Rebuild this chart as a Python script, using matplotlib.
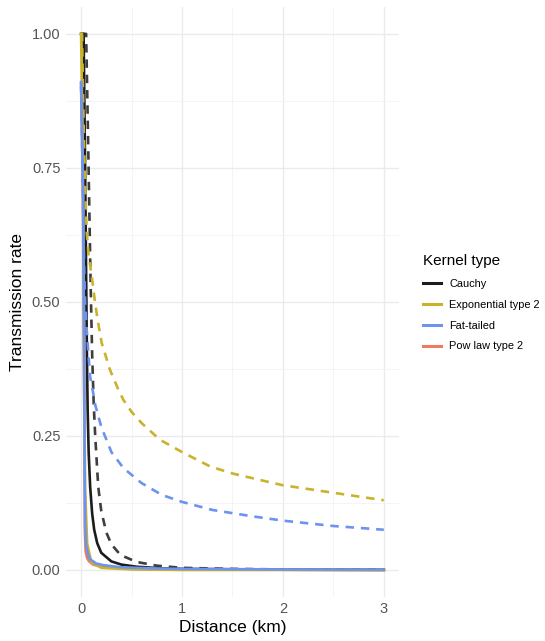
import numpy as np
import matplotlib.pyplot as plt
from matplotlib.lines import Line2D

# values (distance in km, transmission rate)
cauchy_x = [0, 0.025, 0.04, 0.05, 0.058, 0.065, 0.075, 0.09, 0.11, 0.13, 0.16, 0.2, 0.3, 0.4, 0.55, 0.8, 1.0, 2.0, 3.0]
cauchy_y = [1.0, 1.0, 0.75, 0.55, 0.4, 0.3, 0.22, 0.155, 0.105, 0.075, 0.05, 0.032, 0.016, 0.01, 0.006, 0.003, 0.002, 0.0005, 0.0002]
cauchy2_x = [0, 0.05, 0.065, 0.08, 0.096, 0.11, 0.125, 0.14, 0.17, 0.2, 0.25, 0.3, 0.39, 0.55, 0.75, 1.0, 1.5, 2.0, 3.0]
cauchy2_y = [1.0, 1.0, 0.85, 0.69, 0.52, 0.4, 0.31, 0.25, 0.155, 0.11, 0.07, 0.048, 0.028, 0.015, 0.008, 0.004, 0.002, 0.001, 0.0005]

exp_x = [0, 0.015, 0.022, 0.03, 0.04, 0.06, 0.1, 0.2, 0.5, 1.0, 3.0]
exp_y = [1.0, 0.8, 0.6, 0.35, 0.15, 0.05, 0.015, 0.004, 0.001, 0.0, 0.0]
exp2_x = [0, 0.01, 0.02, 0.035, 0.056, 0.073, 0.106, 0.139, 0.17, 0.205, 0.287, 0.37, 0.42, 0.5, 0.6, 0.78, 1.0, 1.28, 1.5, 1.77, 2.0, 2.5, 3.0]
exp2_y = [1.0, 1.0, 0.88, 0.75, 0.63, 0.59, 0.547, 0.498, 0.46, 0.423, 0.373, 0.336, 0.317, 0.295, 0.274, 0.243, 0.22, 0.193, 0.18, 0.168, 0.158, 0.144, 0.13]

fat_x = [0, 0.02, 0.03, 0.035, 0.04, 0.05, 0.07, 0.09, 0.15, 0.22, 0.4, 0.7, 1.0, 2.0, 3.0]
fat_y = [0.91, 0.7, 0.4, 0.2, 0.08, 0.045, 0.028, 0.02, 0.012, 0.009, 0.005, 0.003, 0.002, 0.001, 0.0006]
fat2_x = [0, 0.01, 0.02, 0.03, 0.04, 0.055, 0.07, 0.09, 0.12, 0.14, 0.2, 0.3, 0.42, 0.6, 0.8, 1.0, 1.3, 1.7, 2.0, 2.5, 3.0]
fat2_y = [0.91, 0.8, 0.68, 0.57, 0.5, 0.45, 0.41, 0.36, 0.33, 0.308, 0.267, 0.22, 0.19, 0.162, 0.14, 0.127, 0.112, 0.1, 0.092, 0.082, 0.075]

pow_x = [0, 0.02, 0.03, 0.034, 0.038, 0.045, 0.06, 0.08, 0.12, 0.2, 0.5, 1.0, 3.0]
pow_y = [0.9, 0.7, 0.4, 0.2, 0.07, 0.035, 0.022, 0.016, 0.01, 0.006, 0.002, 0.001, 0.0]

kernels = ["Cauchy", "Exponential type 2", "Fat-tailed", "Pow law type 2"]
colours = ["#1c1c1c", "#C9B32B", "#6D93EE", "#EF7A5E"]

plt.rcParams['font.family'] = ['Liberation Sans', 'DejaVu Sans']

fig = plt.figure(figsize=(5.45, 6.41), dpi=100)
ax = fig.add_axes([0.121, 0.069, 0.611, 0.92])

lw = 1.9
dash = (0, (3.2, 2.6))
ax.plot(pow_x, pow_y, color=colours[3], lw=lw)
ax.plot(cauchy_x, cauchy_y, color=colours[0], lw=lw)
ax.plot(cauchy2_x, cauchy2_y, color=colours[0], lw=lw, ls=dash, alpha=0.85)
ax.plot(exp_x, exp_y, color=colours[1], lw=lw)
ax.plot(exp2_x, exp2_y, color=colours[1], lw=lw, ls=dash)
ax.plot(fat_x, fat_y, color=colours[2], lw=lw)
ax.plot(fat2_x, fat2_y, color=colours[2], lw=lw, ls=dash)

ax.set_xlim(-0.15, 3.15)
ax.set_ylim(-0.05, 1.05)
ax.set_xticks([0, 1, 2, 3])
ax.set_xticks([0.5, 1.5, 2.5], minor=True)
ax.set_yticks([0, 0.25, 0.5, 0.75, 1.0])
ax.set_yticks([0.125, 0.375, 0.625, 0.875], minor=True)
ax.set_yticklabels(["0.00", "0.25", "0.50", "0.75", "1.00"])
ax.grid(which='major', color='#EBEBEB', lw=1.0)
ax.grid(which='minor', color='#F3F3F3', lw=0.6)
ax.set_axisbelow(True)
for s in ax.spines.values():
    s.set_visible(False)
ax.tick_params(which='both', length=0, labelsize=10.5, labelcolor='#555555', pad=4)
ax.set_xlabel("Distance (km)", fontsize=12.5, labelpad=3)
ax.set_ylabel("Transmission rate", fontsize=12.5, labelpad=5)

handles = [Line2D([0], [0], color=c, lw=2.2) for c in colours]
leg = fig.legend(handles, kernels, loc='center left', bbox_to_anchor=(0.758, 0.528),
                 frameon=False, title="Kernel type", fontsize=7.9, title_fontsize=11,
                 handlelength=1.6, labelspacing=1.0, alignment='left')

fig.savefig("out.png", dpi=100)
